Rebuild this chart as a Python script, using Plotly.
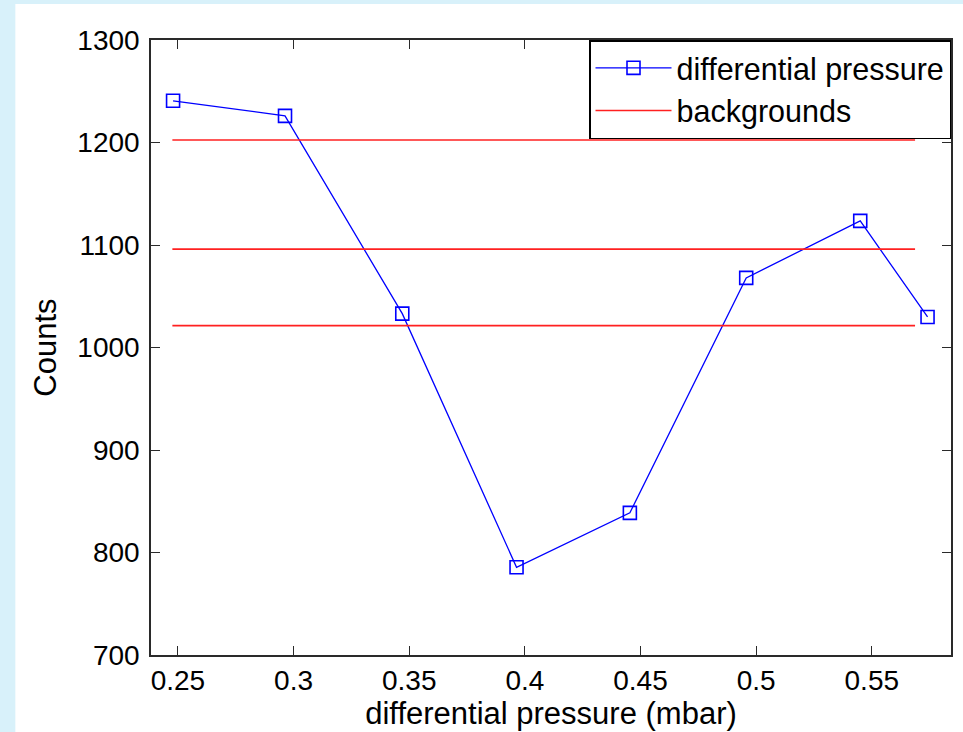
import plotly.graph_objects as go

# Data
pressure_mbar = [0.2479, 0.2963, 0.3470, 0.3964, 0.4454, 0.4957, 0.5450, 0.5741]
counts = [1240.7, 1226.0, 1033.0, 785.6, 838.7, 1067.9, 1123.5, 1029.8]

background_levels = [1202.5, 1096.0, 1021.3]
background_x_start = 0.2476
background_x_end = 0.5687

x_tick_vals = [0.25, 0.3, 0.35, 0.4, 0.45, 0.5, 0.55]
x_tick_text = ["0.25", "0.3", "0.35", "0.4", "0.45", "0.5", "0.55"]
y_tick_vals = [700, 800, 900, 1000, 1100, 1200, 1300]

# build background line trace (one legend entry, separate segments)
bg_x, bg_y = [], []
for lvl in background_levels:
    bg_x += [background_x_start, background_x_end, None]
    bg_y += [lvl, lvl, None]

FONT = "Arial, Liberation Sans, Helvetica, sans-serif"

fig = go.Figure()
fig.add_trace(go.Scatter(
    x=pressure_mbar, y=counts, mode="lines+markers",
    name="differential pressure",
    line=dict(color="#0000ff", width=1.3),
    marker=dict(symbol="square-open", size=13, color="#0000ff",
                line=dict(width=1.6, color="#0000ff")),
))
fig.add_trace(go.Scatter(
    x=bg_x, y=bg_y, mode="lines", name="backgrounds",
    line=dict(color="#ff2020", width=1.6),
))

axis_common = dict(
    showline=True, linecolor="#2a2a2a", linewidth=1.5,
    mirror="ticks", ticks="inside", ticklen=9, tickwidth=1.3,
    tickcolor="#2a2a2a", showgrid=False, zeroline=False,
    tickfont=dict(family=FONT, size=28, color="#000000"),
)

fig.update_xaxes(
    range=[0.23836, 0.58424], tickvals=x_tick_vals, ticktext=x_tick_text,
    title=dict(text="differential pressure (mbar)",
               font=dict(family=FONT, size=31, color="#000000"), standoff=2),
    **axis_common,
)
fig.update_yaxes(
    range=[700, 1300], tickvals=y_tick_vals,
    title=dict(text="Counts", font=dict(family=FONT, size=31, color="#000000"),
               standoff=12),
    ticklabelstandoff=4,
    **axis_common,
)

fig.update_layout(
    width=963, height=732,
    margin=dict(l=151, r=10, t=40, b=77),
    paper_bgcolor="#d8f1fa", plot_bgcolor="#ffffff",
    font=dict(family=FONT, color="#000000"),
    legend=dict(
        x=1, y=1, xanchor="right", yanchor="top",
        bgcolor="#ffffff", bordercolor="#000000", borderwidth=1.5,
        font=dict(family=FONT, size=30.5, color="#000000"),
        itemwidth=76, tracegroupgap=0,
    ),
    shapes=[dict(
        type="rect", xref="paper", yref="paper", layer="below",
        x0=(15 - 151) / 802, x1=1.02, y0=-0.13, y1=1 + (40 - 4) / 615,
        fillcolor="#ffffff", line=dict(width=0),
    )],
    showlegend=True,
)

fig.write_html(
    "out.html",
    config={"displayModeBar": False},
    post_script="document.body.style.margin='0';"
                "document.body.style.background='#d8f1fa';",
)
